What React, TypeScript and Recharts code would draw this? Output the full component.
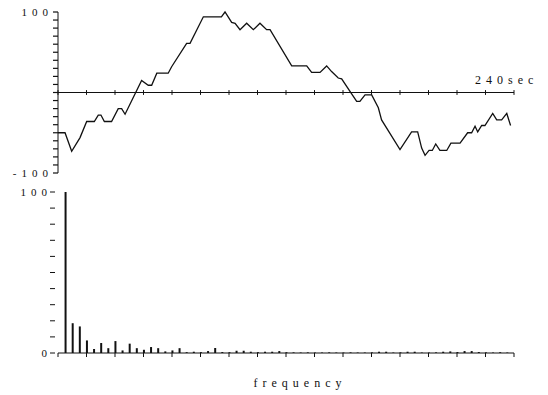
import {
  Bar,
  BarChart,
  Line,
  LineChart,
  ReferenceLine,
  XAxis,
  YAxis,
} from "recharts";

// Time signal (seconds, relative amplitude)
const SIGNAL_TIME = [
  0, 3.7, 7.2, 11.6, 15.1, 19.1, 21.2, 22.6, 24.4, 28.2, 31.7, 33.5, 35.3,
  44, 47.5, 49.3, 52, 58, 59.8, 67.7, 69.5, 76.5, 86, 87.9, 91.4, 93.2, 95.8,
  99.3, 102.8, 106.3, 109.8, 111.6, 123, 130.9, 133.5, 137.9, 141.4, 144,
  147.5, 149.3, 153.5, 157.2, 158.9, 161.6, 165.1, 168.6, 170.3, 180, 186.1,
  189.3, 191.4, 193.2, 195.3, 197, 198.8, 201, 204.6, 206.8, 211.6, 215.6,
  217.7, 219.5, 220.9, 223, 224.7, 228.8, 230.9, 233.5, 236.2, 238.2,
];
const SIGNAL_VALUE = [
  -50, -50, -73, -56, -36, -36, -28, -28, -36, -36, -20, -20, -27,
  15, 9, 9, 24, 24, 32, 61, 61, 94, 94, 100, 87, 86, 78,
  86, 78, 86, 78, 78, 33, 33, 25, 25, 33, 26,
  18, 17, 2, -11, -11, -3, -3, -19, -34, -71, -49,
  -49, -69, -78, -72, -72, -64, -72, -72, -63, -63, -50,
  -50, -42, -49, -41, -41, -26, -34, -34, -26, -41,
];

const TIME_TICKS = [0, 15, 30, 45, 60, 75, 90, 105, 120, 135, 150, 165, 180, 195, 210, 225, 240];
const LEVEL_TICKS = [-100, -90, -80, -70, -60, -50, -40, -30, -20, -10, 0, 10, 20, 30, 40, 50, 60, 70, 80, 90, 100];

// Spectrum magnitude for bins 1..63
const SPECTRUM_AMP = [
  100, 18.5, 16.5, 7.8, 2.5, 6.2, 3, 7.4, 1.6, 5.8, 3, 2, 3.7, 3, 1, 1.6,
  3, 0.5, 0.8, 0.5, 1.2, 3.1, 0.6, 0.5, 1.4, 1.4, 0.8, 0.5, 0.8, 0.8, 1.2, 0.5,
  0.4, 0.3, 0.4, 0.3, 0.3, 0.4, 0.3, 0.3, 0.4, 0.3, 0.3, 0.4, 0.8, 0.8, 0.3, 0.4,
  0.8, 0.8, 0.3, 0.3, 0.4, 0.8, 1, 0.6, 1.2, 1.2, 0.6, 0.4, 0.3, 0.5, 0.3,
];
const BIN_TICKS = [0, 4, 8, 12, 16, 20, 24, 28, 32, 36, 40, 44, 48, 52, 56, 60, 64];
const AMP_TICKS = [0, 10, 20, 30, 40, 50, 60, 70, 80, 90, 100];

const signalRows = SIGNAL_TIME.map((t, i) => ({ t, v: SIGNAL_VALUE[i] }));
const spectrumRows = SPECTRUM_AMP.map((a, i) => ({ k: i + 1, a }));

const FONT = "'Liberation Serif', 'DejaVu Serif', serif";
const INK = "#111";

// left-axis tick: short dash, label only at the extremes
function LevelTick(props: any) {
  const { x, y, payload } = props;
  const v = payload.value;
  const label = v === 100 || v === -100 ? String(v) : "";
  return (
    <g>
      <line x1={x - 5} x2={x} y1={y} y2={y} stroke={INK} strokeWidth={1.2} />
      {label && (
        <text x={x - 5} y={y + 4} textAnchor="end" fontFamily={FONT} fontSize={11} letterSpacing={5} fill={INK}>
          {label}
        </text>
      )}
    </g>
  );
}

function SpectrumTick(props: any) {
  const { x, y, payload } = props;
  const label = payload.value === 0 || payload.value === 100 ? String(payload.value) : "";
  return (
    <g>
      <line x1={x - 8} x2={x - 3} y1={y} y2={y} stroke={INK} strokeWidth={1} />
      {label && (
        <text x={x - 6} y={y + 4} textAnchor="end" fontFamily={FONT} fontSize={11} letterSpacing={5} fill={INK}>
          {label}
        </text>
      )}
    </g>
  );
}

function BinTick(props: any) {
  const { x, y } = props;
  return <line x1={x} x2={x} y1={y} y2={y + 4} stroke={INK} strokeWidth={1} />;
}

function SecondsLabel(props: any) {
  const { viewBox } = props;
  return (
    <text
      x={viewBox.x + viewBox.width - 39}
      y={viewBox.y - 9}
      fontFamily={FONT}
      fontSize={12}
      letterSpacing={5}
      fill={INK}
    >
      240sec
    </text>
  );
}

export default function App() {
  return (
    <div style={{ position: "absolute", left: 0, top: 0, width: 548, height: 395, background: "#fff" }}>
      <LineChart width={548} height={185} data={signalRows} margin={{ top: 12, right: 34, bottom: 12, left: 8 }}>
        <XAxis type="number" dataKey="t" domain={[0, 240]} hide />
        <YAxis
          type="number"
          domain={[-100, 100]}
          ticks={LEVEL_TICKS}
          interval={0}
          width={50}
          stroke={INK}
          tickLine={false}
          tickSize={0}
          tickMargin={0}
          tick={<LevelTick />}
        />
        <ReferenceLine y={0} stroke={INK} strokeWidth={1.2} label={<SecondsLabel />} />
        {TIME_TICKS.map((t) => (
          <ReferenceLine
            key={t}
            segment={[
              { x: t, y: -3 },
              { x: t, y: 3 },
            ]}
            stroke={INK}
            strokeWidth={1}
          />
        ))}
        <Line
          type="linear"
          dataKey="v"
          stroke={INK}
          strokeWidth={1.3}
          dot={false}
          isAnimationActive={false}
        />
      </LineChart>
      <BarChart width={548} height={210} data={spectrumRows} margin={{ top: 7, right: 34, bottom: 0, left: 8 }} barSize={2}>
        <XAxis
          type="number"
          dataKey="k"
          domain={[0, 64]}
          ticks={BIN_TICKS}
          interval={0}
          height={42}
          stroke={INK}
          tickLine={false}
          tickSize={0}
          tickMargin={0}
          tick={<BinTick />}
          label={{
            value: "frequency",
            position: "insideBottom",
            offset: 8,
            dx: 14,
            fill: INK,
            fontFamily: FONT,
            fontSize: 12,
            letterSpacing: 5,
          }}
        />
        <YAxis
          type="number"
          domain={[0, 100]}
          ticks={AMP_TICKS}
          interval={0}
          width={50}
          axisLine={false}
          tickLine={false}
          tickSize={0}
          tickMargin={0}
          tick={<SpectrumTick />}
        />
        <Bar dataKey="a" fill={INK} isAnimationActive={false} />
      </BarChart>
    </div>
  );
}
